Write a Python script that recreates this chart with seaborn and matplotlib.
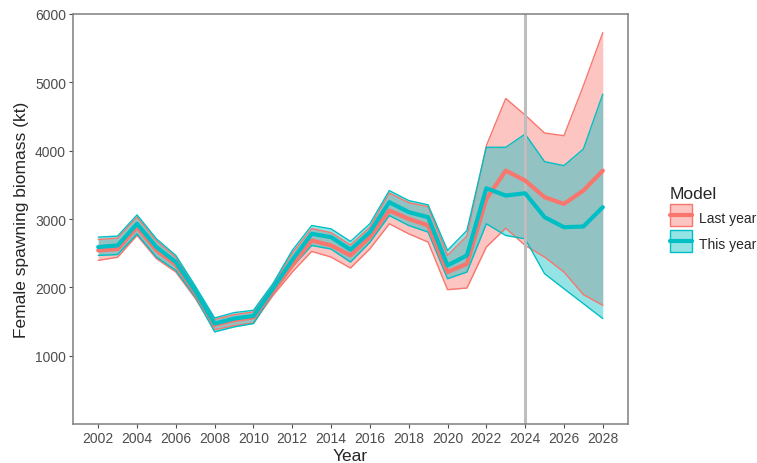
import numpy as np
import pandas as pd
import matplotlib
matplotlib.use("Agg")
import matplotlib.pyplot as plt
import seaborn as sns
from matplotlib.lines import Line2D
from matplotlib.colors import to_rgba
from matplotlib.legend_handler import HandlerTuple

years = list(range(2002, 2029))

# This year's assessment
this_med = [2590, 2613, 2930, 2590, 2370, 1950, 1470, 1543, 1582, 1980, 2400, 2783, 2735, 2550,
            2808, 3246, 3100, 3027, 2321, 2467, 3450, 3343, 3377, 3027, 2880, 2890, 3173]
this_hi = [2735, 2750, 3060, 2710, 2467, 2020, 1552, 1630, 1664, 2053, 2540, 2905, 2856, 2672,
           2930, 3416, 3270, 3207, 2540, 2832, 4049, 4049, 4243, 3839, 3781, 4024, 4827]
this_lo = [2467, 2480, 2783, 2443, 2248, 1860, 1348, 1421, 1470, 1907, 2300, 2613, 2560, 2370,
           2660, 3051, 2905, 2808, 2126, 2224, 2930, 2759, 2710, 2200, 1980, 1762, 1543]

# Last year's assessment
last_med = [2540, 2560, 2880, 2540, 2330, 1920, 1450, 1520, 1560, 1940, 2321, 2686, 2613, 2467,
            2735, 3124, 3002, 2905, 2224, 2345, 3294, 3708, 3562, 3319, 3221, 3416, 3708]
last_hi = [2700, 2720, 3030, 2680, 2440, 2000, 1530, 1600, 1640, 2030, 2500, 2860, 2800, 2620,
           2880, 3380, 3240, 3180, 2467, 2750, 4073, 4764, 4521, 4258, 4219, 4949, 5727]
last_lo = [2395, 2440, 2760, 2420, 2224, 1840, 1380, 1440, 1480, 1880, 2224, 2526, 2443, 2282,
           2564, 2930, 2783, 2662, 1966, 1990, 2589, 2866, 2613, 2443, 2224, 1893, 1737]

models = ["Last year", "This year"]
colors = {"Last year": "#F8766D", "This year": "#00BFC4"}

df = pd.concat([
    pd.DataFrame({"Year": years, "Model": "Last year", "med": last_med, "lo": last_lo, "hi": last_hi}),
    pd.DataFrame({"Year": years, "Model": "This year", "med": this_med, "lo": this_lo, "hi": this_hi}),
])

sns.set_style("white")
plt.rcParams["font.family"] = ["Liberation Sans", "DejaVu Sans"]

fig = plt.figure(figsize=(7.57, 4.64), dpi=100)
ax = fig.add_axes([0.0964, 0.084, 0.7332, 0.8837])

# ribbons
for m in models:
    d = df[df["Model"] == m]
    ax.fill_between(d["Year"], d["lo"], d["hi"], color=colors[m], alpha=0.42, lw=0)
    ax.plot(d["Year"], d["lo"], color=colors[m], lw=1)
    ax.plot(d["Year"], d["hi"], color=colors[m], lw=1)

ax.axvline(2024, color="#BEBEBE", lw=2.2, zorder=2.5)

sns.lineplot(data=df, x="Year", y="med", hue="Model", hue_order=models,
             palette=colors, linewidth=3, ax=ax, legend=False, zorder=3)

ax.set_xlim(2000.7, 2029.3)
ax.set_ylim(0, 6000)
ax.set_xticks(list(range(2002, 2029, 2)))
ax.set_yticks([1000, 2000, 3000, 4000, 5000, 6000])
ax.set_xlabel("Year", fontsize=12.5, labelpad=2)
ax.set_ylabel("Female spawning biomass (kt)", fontsize=12.5, labelpad=4)
ax.tick_params(axis="both", labelsize=10, colors="#4D4D4D", length=3, width=0.8,
               direction="out", bottom=True, left=True, pad=2)
for s in ax.spines.values():
    s.set_color("#7F7F7F")
    s.set_linewidth(1.1)

# legend keys: translucent box with outline plus the median line
handles = []
for m in models:
    box = Line2D([], [], ls="none", marker="s", markersize=16.5,
                 markerfacecolor=to_rgba(colors[m], 0.42), markeredgecolor=colors[m],
                 markeredgewidth=1)
    line = Line2D([], [], color=colors[m], lw=3)
    handles.append((box, line))
leg = fig.legend(handles, models, title="Model", loc="center left",
                 bbox_to_anchor=(0.868, 0.525), frameon=False, fontsize=10,
                 title_fontsize=12.5, handler_map={tuple: HandlerTuple(ndivide=1, pad=0)},
                 handlelength=1.65, handleheight=1.7, labelspacing=0.55, handletextpad=0.5)
leg._legend_box.align = "left"

fig.savefig("out.png", dpi=100)
